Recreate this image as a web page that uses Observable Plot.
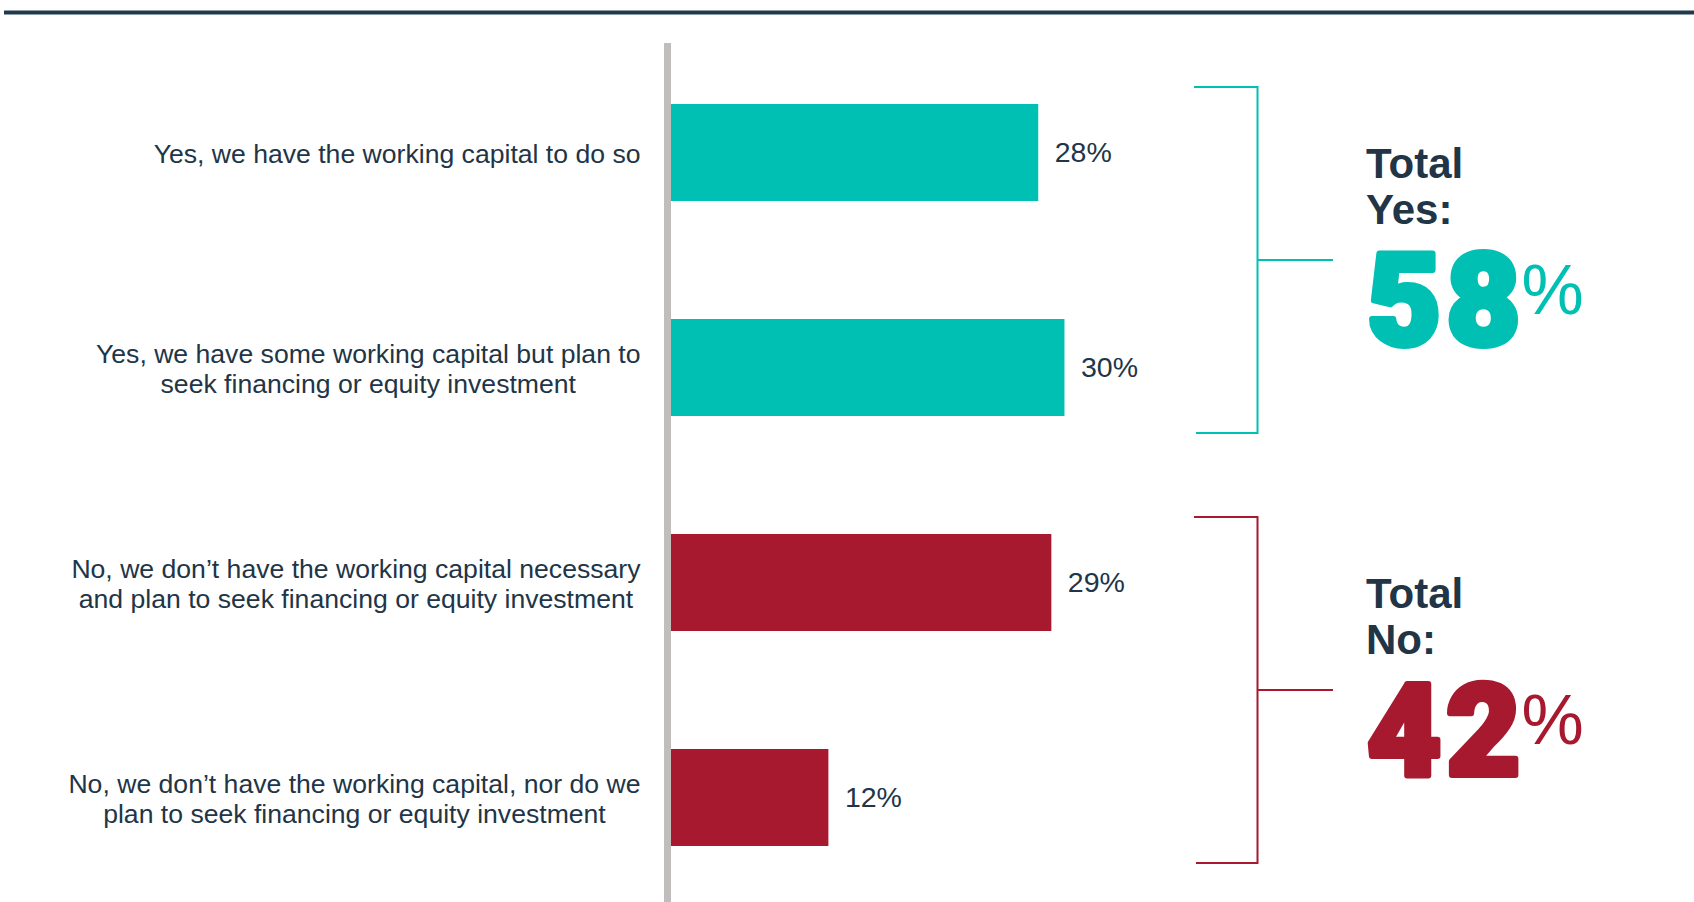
<!DOCTYPE html>
<html><head><meta charset="utf-8">
<script src="https://cdn.jsdelivr.net/npm/d3@7"></script>
<script src="https://cdn.jsdelivr.net/npm/@observablehq/plot@0.6"></script>
<style>html,body{margin:0;padding:0;background:#fff;} #chart{position:relative;width:1694px;height:902px;overflow:hidden}</style>
</head><body><div id="chart"></div>
<script>
// ---- data ----
const categories = [
  "Yes, we have the working capital to do so",
  "Yes, we have some working capital but plan to\nseek financing or equity investment",
  "No, we don\u2019t have the working capital necessary\nand plan to seek financing or equity investment",
  "No, we don\u2019t have the working capital, nor do we\nplan to seek financing or equity investment"
];
const values = [28, 30, 29, 12];
const groups = ["Yes", "Yes", "No", "No"];
const groupNames = ["Yes", "No"];
const groupTitles = ["Total\nYes:", "Total\nNo:"];
const groupTotals = [58, 42];

// ---- style ----
const TEAL = "#00BFB3", RED = "#A6192E", NAVY = "#213547", GRAY = "#BFBEBD";
const FONT = "'Liberation Sans', Arial, sans-serif";
const LABEL_SIZE = 26.6, LABEL_GAP = 31;
const data = categories.map((c, i) => ({category: c, value: values[i], group: groups[i]}));

const ctx = document.createElement("canvas").getContext("2d");
ctx.font = `${LABEL_SIZE}px 'Liberation Sans'`;
const maxLineWidth = s => d3.max(s.split("\n"), l => ctx.measureText(l).width);

function annotations(index, scales, vals, dimensions) {
  const y = scales.y, bw = y.bandwidth();
  const g = d3.create("svg:g").attr("text-anchor", "start");
  g.append("rect").attr("x", 4).attr("y", 10.5).attr("width", dimensions.width - 4).attr("height", 4).attr("fill", "#1f3a4f");
  const BX = 1257.5, BL = 1194, TR = 1333, TX = 1366, PAD = 17;
  groupNames.forEach((name, gi) => {
    const cats = categories.filter((c, i) => groups[i] === name);
    const y0 = y(cats[0]), y1 = y(cats[cats.length - 1]) + bw;
    const top = y0 - PAD, bottom = y1 + PAD, mid = (y0 + y1) / 2;
    const col = name === "Yes" ? TEAL : RED;
    g.append("path")
      .attr("d", `M${BL},${top}H${BX}V${bottom}H${BL + 2}M${BX},${mid}H${TR}`)
      .attr("fill", "none").attr("stroke", col).attr("stroke-width", 2);
    const lines = groupTitles[gi].split("\n");
    lines.forEach((l, li) => {
      g.append("text").attr("x", TX).attr("y", mid - 82.5 + li * 46)
        .attr("font-family", FONT).attr("font-weight", "bold").attr("font-size", 42)
        .attr("fill", NAVY).text(l);
    });
    const t = g.append("text").attr("x", TX + 1).attr("y", mid + 85).attr("fill", col);
    t.append("tspan").attr("font-family", "Roboto, " + FONT).attr("font-weight", 900)
      .attr("font-size", 128).attr("letter-spacing", 5)
      .attr("stroke", col).attr("stroke-width", 6).attr("stroke-linejoin", "round")
      .text(groupTotals[gi]);
    t.append("tspan").attr("font-family", FONT).attr("font-weight", "normal")
      .attr("font-size", 70).attr("dx", -4).attr("dy", -31).text("%");
  });
  return g.node();
}

const plot = Plot.plot({
  width: 1694,
  height: 902,
  marginLeft: 671,
  marginRight: 0,
  marginTop: 81,
  marginBottom: 33,
  style: {fontFamily: FONT, background: "white", overflow: "visible"},
  x: {domain: [0, 78], axis: null},
  y: {domain: categories, paddingInner: 0.548, paddingOuter: 0.1, axis: null},
  color: {domain: groupNames, range: [TEAL, RED]},
  marks: [
    Plot.barX(data, {x: "value", y: "category", fill: "group"}),
    Plot.ruleX([0], {stroke: GRAY, strokeWidth: 7, dx: -4, insetTop: -38, insetBottom: -40}),
    Plot.text(data, {x: "value", y: "category", text: d => d.value + "%", dx: 16, textAnchor: "start", fontSize: 28.5, fill: NAVY}),
    ...data.map(d => Plot.text([d], {
      x: 0, y: "category", text: "category", textAnchor: "middle", lineHeight: 1.13,
      dx: -(LABEL_GAP + maxLineWidth(d.category) / 2), fontSize: LABEL_SIZE, fill: NAVY
    })),
    annotations
  ]
});
document.getElementById("chart").appendChild(plot);
</script>
</body></html>
